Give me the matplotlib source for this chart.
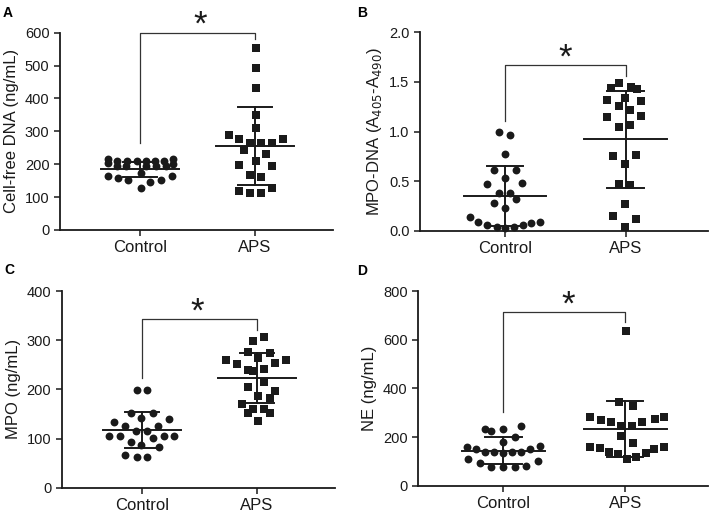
import numpy as np
import matplotlib.pyplot as plt

plt.rcParams['font.family'] = ['Liberation Sans', 'DejaVu Sans']

groups = ['Control', 'APS']

# panel A: cell-free DNA
a_ctrl = [215, 203, 211, 211, 211, 211, 211, 211, 215, 201, 195, 195, 195, 195, 195,
          164, 157, 152, 172, 147, 152, 164, 129]
a_ctrl_dx = [-0.283, -0.283, -0.204, -0.114, -0.029, 0.052, 0.131, 0.207, 0.286, 0.286,
             -0.204, -0.122, 0.052, 0.140, 0.227, -0.283, -0.192, -0.108, 0.009, 0.087,
             0.184, 0.280, 0.003]
a_aps = [552, 493, 433, 350, 311, 289, 276, 264, 264, 266, 276, 243, 211, 230, 198, 195,
         167, 162, 119, 111, 111, 129]
a_aps_dx = [0.009, 0.009, 0.009, 0.009, 0.009, -0.23, -0.137, -0.044, 0.05, 0.146, 0.242,
            -0.093, 0.009, 0.096, -0.137, 0.146, -0.044, 0.05, -0.143, -0.044, 0.05, 0.146]
a_mean = [184, 256]
a_sd = [23, 118]

# panel B: MPO-DNA
b_ctrl = [0.99, 0.965, 0.773, 0.612, 0.612, 0.528, 0.467, 0.477, 0.383, 0.383, 0.319,
          0.276, 0.225, 0.141, 0.084, 0.057, 0.04, 0.024, 0.04, 0.057, 0.074, 0.091]
b_ctrl_dx = [-0.049, 0.047, 0.0, -0.09, 0.093, 0.0, -0.145, 0.142, -0.049, 0.047, 0.093,
             -0.09, 0.0, -0.29, -0.219, -0.145, -0.063, 0.0, 0.074, 0.148, 0.219, 0.293]
b_aps = [1.486, 1.445, 1.435, 1.425, 1.334, 1.318, 1.307, 1.257, 1.217, 1.15, 1.156,
         1.042, 1.066, 0.756, 0.763, 0.672, 0.467, 0.461, 0.269, 0.148, 0.114, 0.034]
b_aps_dx = [-0.055, 0.047, -0.123, 0.093, -0.008, -0.153, 0.129, -0.055, 0.038, -0.153,
            0.129, -0.055, 0.038, -0.104, 0.082, -0.008, -0.055, 0.038, -0.008, -0.104,
            0.082, -0.008]
b_mean = [0.35, 0.921]
b_sd = [0.305, 0.488]

# panel C: MPO
c_ctrl = [198.7, 198.7, 151, 152, 142, 133, 139, 125.5, 125.5, 115, 115, 105.7, 105.7,
          105.7, 105.7, 93.5, 100.4, 86.8, 82, 66.5, 62, 62]
c_ctrl_dx = [-0.043, 0.043, -0.10, 0.092, -0.006, -0.247, 0.237, -0.145, 0.139, -0.052,
             0.043, -0.29, -0.195, 0.188, 0.281, -0.10, 0.092, -0.006, 0.144, -0.145,
             -0.043, 0.043]
c_aps = [307, 298, 275, 273, 260, 260, 251.5, 254, 263, 239, 240.7, 238, 215.6, 205,
         196.6, 183, 186, 169.5, 160, 160, 151, 151, 135.6]
c_aps_dx = [0.058, -0.035, -0.081, 0.11, -0.27, 0.252, -0.174, 0.16, 0.009, -0.081, 0.058,
            -0.035, 0.058, -0.081, 0.16, 0.11, 0.009, -0.13, -0.035, 0.058, -0.081, 0.11,
            0.009]
c_mean = [117.3, 223.7]
c_sd = [37.3, 51]

# panel D: NE
d_ctrl = [233, 225, 233, 247, 199, 178, 160, 150, 137, 137, 133, 137, 140, 150, 163,
          108, 94, 78, 78, 78, 82, 101]
d_ctrl_dx = [-0.147, -0.097, 0.0, 0.145, 0.092, 0.0, -0.297, -0.222, -0.147, -0.075, 0.0,
             0.075, 0.148, 0.222, 0.297, -0.286, -0.194, -0.097, 0.0, 0.092, 0.187, 0.287]
d_aps = [635.6, 345, 328.8, 280.8, 283.6, 270, 263, 272.6, 263, 246.6, 246.6, 204, 174,
         160, 157.5, 153.4, 139.7, 130, 109.6, 116.4, 135.6, 150.7]
d_aps_dx = [0.006, -0.047, 0.061, -0.286, 0.319, -0.2, -0.117, 0.242, 0.139, -0.033, 0.056,
            -0.033, 0.061, -0.286, 0.319, -0.208, -0.133, -0.056, 0.014, 0.089, 0.167,
            0.236]
d_mean = [144, 232]
d_sd = [55, 115]

panels = [
    # letter, ctrl, ctrl_dx, aps, aps_dx, mean, sd, ylabel, ymax, ystep, axes rect, bracket, star
    ('A', a_ctrl, a_ctrl_dx, a_aps, a_aps_dx, a_mean, a_sd, 'Cell-free DNA (ng/mL)',
     600, 100, [0.0846, 0.5517, 0.385, 0.3846], (600, 263, 582), (0.52, 622)),
    ('B', b_ctrl, b_ctrl_dx, b_aps, b_aps_dx, b_mean, b_sd,
     'MPO-DNA (A$_{405}$-A$_{490}$)', 2.0, 0.5, [0.5924, 0.5503, 0.406, 0.3867],
     (1.667, 1.109, 1.56), (0.5, 1.735)),
    ('C', c_ctrl, c_ctrl_dx, c_aps, c_aps_dx, c_mean, c_sd, 'MPO (ng/mL)',
     400, 100, [0.087, 0.0493, 0.3855, 0.3834], (344, 224, 320), (0.48, 358)),
    ('D', d_ctrl, d_ctrl_dx, d_aps, d_aps_dx, d_mean, d_sd, 'NE (ng/mL)',
     800, 200, [0.5896, 0.0532, 0.409, 0.3795], (715, 304, 674), (0.53, 743)),
]

ink = '#1a1a1a'
fig = plt.figure(figsize=(7.09, 5.13), dpi=100)

for letter, ctrl, cdx, aps, adx, mean, sd, ylab, ymax, ystep, rect, br, star in panels:
    ax = fig.add_axes(rect)
    ax.scatter(np.array(cdx) + 0, ctrl, s=32, marker='o', color=ink, lw=0, clip_on=False, zorder=3)
    ax.scatter(np.array(adx) + 1, aps, s=30, marker='s', color=ink, lw=0, clip_on=False, zorder=3)
    for i in range(2):
        lo = max(mean[i] - sd[i], 0)
        hi = mean[i] + sd[i]
        ax.plot([i - 0.34, i + 0.34], [mean[i], mean[i]], color=ink, lw=1.4, zorder=4)
        ax.plot([i, i], [lo, hi], color=ink, lw=1.4, zorder=4)
        ax.plot([i - 0.15, i + 0.15], [hi, hi], color=ink, lw=1.4, zorder=4)
        if mean[i] - sd[i] > 0:
            ax.plot([i - 0.15, i + 0.15], [lo, lo], color=ink, lw=1.4, zorder=4)
    top, left_end, right_end = br
    ax.plot([0, 0, 1, 1], [left_end, top, top, right_end], color='#333333', lw=0.9,
            clip_on=False, zorder=2)
    ax.text(star[0], star[1], '*', fontsize=25, ha='center', va='center', color=ink,
            clip_on=False)

    ax.set_xlim(-0.7, 1.68)
    ax.set_ylim(0, ymax)
    ax.set_yticks(np.arange(0, ymax + ystep / 2, ystep))
    if ystep < 1:
        ax.set_yticklabels(['%.1f' % v for v in np.arange(0, ymax + ystep / 2, ystep)])
    ax.set_xticks([0, 1])
    ax.set_xticklabels(groups, fontsize=12, color=ink)
    ax.tick_params(axis='y', labelsize=10.5, colors=ink, length=4, width=1.1)
    ax.tick_params(axis='x', length=4, width=1.1, colors=ink)
    ax.set_ylabel(ylab, fontsize=12, color=ink)
    for s in ['top', 'right']:
        ax.spines[s].set_visible(False)
    for s in ['left', 'bottom']:
        ax.spines[s].set_linewidth(1.3)
        ax.spines[s].set_color(ink)
    ax.patch.set_alpha(0)

fig.text(0.004, 0.975, 'A', fontsize=10, fontweight='bold', va='center')
fig.text(0.504, 0.975, 'B', fontsize=10, fontweight='bold', va='center')
fig.text(0.006, 0.474, 'C', fontsize=10, fontweight='bold', va='center')
fig.text(0.503, 0.472, 'D', fontsize=10, fontweight='bold', va='center')

fig.savefig('out.png', dpi=100)
